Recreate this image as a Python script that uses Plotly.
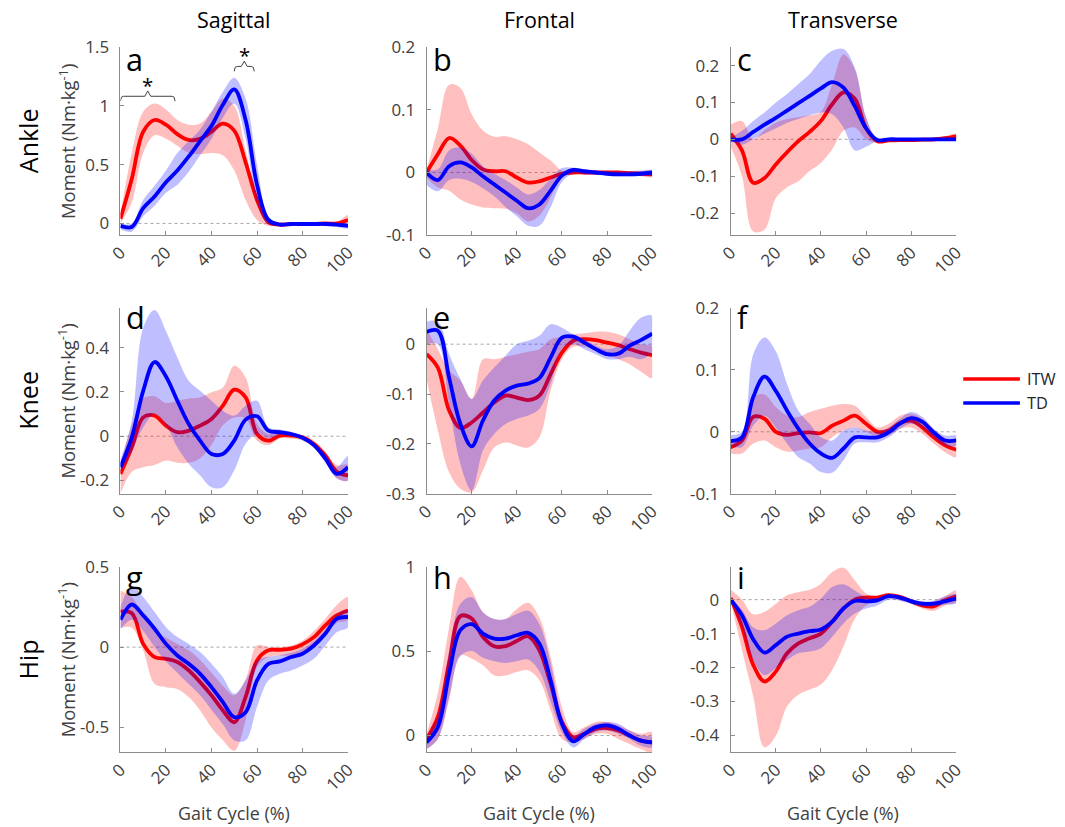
import plotly.graph_objects as go
from plotly.subplots import make_subplots

# ---------------- data ----------------
gait = list(range(0, 101, 5))  # gait cycle %

# a: ankle sagittal
itw_a_mean = [0.04, 0.38, 0.78, 0.88, 0.84, 0.76, 0.71, 0.72, 0.78, 0.85, 0.79, 0.52, 0.20, 0.01, -0.01, -0.005, -0.005, -0.005, 0.0, 0.0, 0.03]
itw_a_hi = [0.08, 0.60, 0.95, 1.02, 0.97, 0.88, 0.84, 0.85, 0.95, 1.06, 1.00, 0.62, 0.22, 0.04, 0.01, 0.005, 0.005, 0.005, 0.01, 0.01, 0.07]
itw_a_lo = [0.0, 0.18, 0.60, 0.75, 0.72, 0.66, 0.60, 0.59, 0.60, 0.58, 0.45, 0.20, 0.03, -0.02, -0.02, -0.02, -0.02, -0.02, -0.02, -0.02, 0.0]
td_a_mean = [-0.02, -0.03, 0.13, 0.23, 0.35, 0.45, 0.57, 0.70, 0.83, 1.01, 1.14, 0.88, 0.33, 0.03, -0.01, -0.005, -0.005, -0.005, -0.005, -0.01, -0.02]
td_a_hi = [0.0, 0.0, 0.20, 0.32, 0.45, 0.60, 0.70, 0.80, 0.95, 1.12, 1.24, 1.06, 0.50, 0.06, 0.0, 0.0, 0.0, 0.0, 0.0, 0.0, 0.0]
td_a_lo = [-0.05, -0.07, 0.06, 0.15, 0.26, 0.33, 0.44, 0.58, 0.72, 0.90, 1.02, 0.72, 0.18, -0.01, -0.02, -0.02, -0.02, -0.02, -0.02, -0.03, -0.04]

# b: ankle frontal
itw_b_mean = [0.0, 0.029, 0.055, 0.043, 0.02, 0.005, 0.002, 0.002, -0.008, -0.016, -0.014, -0.008, -0.002, 0.0, 0.0, 0.0, 0.0, 0.0, -0.001, -0.002, -0.003]
itw_b_hi = [0.005, 0.07, 0.14, 0.135, 0.093, 0.067, 0.057, 0.058, 0.053, 0.045, 0.032, 0.019, 0.003, 0.002, 0.002, 0.002, 0.002, 0.002, 0.002, 0.002, 0.002]
itw_b_lo = [-0.008, -0.024, -0.029, -0.043, -0.051, -0.056, -0.057, -0.058, -0.065, -0.078, -0.069, -0.04, -0.004, -0.003, -0.003, -0.003, -0.004, -0.004, -0.005, -0.006, -0.007]
td_b_mean = [0.0, -0.012, 0.01, 0.016, 0.008, -0.006, -0.019, -0.032, -0.045, -0.057, -0.051, -0.029, -0.005, 0.004, 0.002, 0.0, -0.002, -0.003, -0.003, -0.002, 0.0]
td_b_hi = [0.005, 0.005, 0.035, 0.04, 0.03, 0.01, -0.002, -0.012, -0.024, -0.035, -0.028, -0.01, 0.007, 0.008, 0.005, 0.003, 0.002, 0.002, 0.002, 0.003, 0.004]
td_b_lo = [-0.02, -0.03, -0.012, -0.01, -0.015, -0.025, -0.038, -0.055, -0.07, -0.085, -0.085, -0.055, -0.015, -0.002, -0.003, -0.004, -0.005, -0.006, -0.006, -0.005, -0.005]

# c: ankle transverse
itw_c_mean = [0.015, -0.03, -0.118, -0.105, -0.068, -0.035, -0.005, 0.02, 0.05, 0.095, 0.127, 0.11, 0.03, -0.005, -0.003, -0.002, -0.002, -0.001, 0.0, 0.003, 0.008]
itw_c_hi = [0.04, 0.05, 0.0, 0.025, 0.045, 0.055, 0.06, 0.065, 0.075, 0.15, 0.23, 0.19, 0.06, 0.0, 0.002, 0.002, 0.002, 0.003, 0.005, 0.008, 0.015]
itw_c_lo = [-0.02, -0.10, -0.25, -0.245, -0.16, -0.13, -0.114, -0.086, -0.064, -0.027, 0.023, 0.032, 0.0, -0.01, -0.008, -0.006, -0.005, -0.005, -0.005, -0.003, 0.0]
td_c_mean = [0.0, 0.0, 0.02, 0.04, 0.058, 0.078, 0.098, 0.118, 0.138, 0.155, 0.14, 0.09, 0.03, -0.002, 0.0, 0.0, 0.0, 0.0, 0.0, 0.0, 0.0]
td_c_hi = [0.005, 0.023, 0.05, 0.073, 0.10, 0.123, 0.15, 0.177, 0.214, 0.24, 0.245, 0.195, 0.06, 0.003, 0.003, 0.003, 0.003, 0.003, 0.003, 0.003, 0.003]
td_c_lo = [-0.005, -0.015, 0.0, 0.015, 0.03, 0.045, 0.055, 0.065, 0.073, 0.068, 0.032, -0.03, -0.02, -0.005, -0.003, -0.003, -0.003, -0.003, -0.003, -0.003, -0.003]

# d: knee sagittal
itw_d_mean = [-0.17, -0.05, 0.085, 0.093, 0.048, 0.018, 0.025, 0.048, 0.078, 0.138, 0.21, 0.175, 0.01, -0.02, 0.003, 0.003, -0.005, -0.035, -0.087, -0.16, -0.177]
itw_d_hi = [-0.12, 0.05, 0.17, 0.18, 0.15, 0.16, 0.17, 0.175, 0.198, 0.22, 0.318, 0.265, 0.055, 0.01, 0.02, 0.015, 0.005, -0.02, -0.07, -0.13, -0.13]
itw_d_lo = [-0.26, -0.16, -0.14, -0.13, -0.11, -0.12, -0.12, -0.10, -0.04, 0.05, 0.085, 0.08, -0.02, -0.04, -0.01, -0.01, -0.02, -0.05, -0.10, -0.19, -0.20]
td_d_mean = [-0.14, -0.005, 0.205, 0.335, 0.27, 0.16, 0.055, -0.02, -0.08, -0.08, -0.02, 0.075, 0.09, 0.025, 0.018, 0.01, -0.007, -0.04, -0.10, -0.17, -0.14]
td_d_hi = [-0.11, 0.07, 0.49, 0.57, 0.475, 0.355, 0.25, 0.205, 0.16, 0.115, 0.093, 0.138, 0.16, 0.04, 0.03, 0.02, 0.0, -0.03, -0.08, -0.14, -0.09]
td_d_lo = [-0.16, -0.07, 0.04, 0.10, 0.05, -0.05, -0.124, -0.177, -0.23, -0.23, -0.154, -0.034, 0.01, -0.01, 0.005, 0.0, -0.015, -0.05, -0.12, -0.19, -0.20]

# e: knee frontal
itw_e_mean = [-0.02, -0.047, -0.133, -0.168, -0.157, -0.137, -0.117, -0.103, -0.107, -0.112, -0.103, -0.06, -0.017, 0.007, 0.01, 0.008, 0.003, -0.002, -0.01, -0.017, -0.022]
itw_e_hi = [0.03, -0.01, -0.053, -0.073, -0.11, -0.03, -0.03, -0.025, -0.02, -0.015, -0.01, 0.01, 0.015, 0.02, 0.022, 0.025, 0.025, 0.02, 0.01, 0.0, -0.005]
itw_e_lo = [-0.07, -0.173, -0.257, -0.29, -0.297, -0.253, -0.207, -0.197, -0.203, -0.207, -0.187, -0.093, -0.03, -0.005, -0.005, -0.01, -0.02, -0.03, -0.04, -0.055, -0.068]
td_e_mean = [0.025, 0.027, -0.067, -0.16, -0.205, -0.153, -0.113, -0.093, -0.083, -0.079, -0.068, -0.027, 0.013, 0.015, 0.003, -0.01, -0.02, -0.019, -0.003, 0.008, 0.021]
td_e_hi = [0.045, 0.045, -0.02, -0.07, -0.11, -0.073, -0.047, -0.023, 0.0, 0.007, 0.017, 0.04, 0.033, 0.02, 0.01, -0.003, -0.01, -0.003, 0.027, 0.053, 0.057]
td_e_lo = [0.0, 0.0, -0.12, -0.24, -0.293, -0.213, -0.18, -0.16, -0.15, -0.143, -0.13, -0.08, -0.01, 0.0, -0.01, -0.02, -0.03, -0.03, -0.025, -0.03, -0.015]

# f: knee transverse
itw_f_mean = [-0.025, -0.014, 0.024, 0.021, 0.0, -0.005, -0.002, -0.001, -0.002, 0.01, 0.018, 0.026, 0.013, 0.0, 0.002, 0.014, 0.018, 0.007, -0.009, -0.022, -0.029]
itw_f_hi = [-0.015, -0.005, 0.056, 0.06, 0.04, 0.026, 0.024, 0.032, 0.037, 0.042, 0.045, 0.042, 0.024, 0.007, 0.013, 0.026, 0.029, 0.021, 0.003, -0.011, -0.019]
itw_f_lo = [-0.035, -0.035, -0.019, -0.014, -0.025, -0.032, -0.03, -0.027, -0.025, -0.009, 0.002, 0.007, 0.0, -0.009, -0.006, 0.005, 0.007, -0.003, -0.019, -0.033, -0.041]
td_f_mean = [-0.015, -0.009, 0.056, 0.089, 0.066, 0.034, 0.005, -0.019, -0.035, -0.042, -0.027, -0.009, -0.009, -0.009, -0.001, 0.013, 0.022, 0.016, -0.001, -0.014, -0.014]
td_f_hi = [-0.005, 0.0, 0.125, 0.152, 0.13, 0.077, 0.034, 0.013, -0.009, -0.014, 0.002, 0.007, 0.002, 0.0, 0.007, 0.021, 0.032, 0.024, 0.005, -0.006, -0.006]
td_f_lo = [-0.022, -0.025, 0.01, 0.026, 0.007, -0.019, -0.041, -0.051, -0.065, -0.066, -0.046, -0.019, -0.017, -0.017, -0.009, 0.005, 0.013, 0.007, -0.009, -0.022, -0.022]

# g: hip sagittal
itw_g_mean = [0.22, 0.21, 0.02, -0.062, -0.073, -0.093, -0.145, -0.218, -0.30, -0.394, -0.467, -0.31, -0.083, -0.02, -0.017, -0.01, 0.017, 0.062, 0.135, 0.197, 0.228]
itw_g_hi = [0.35, 0.31, 0.20, 0.10, 0.06, 0.02, -0.02, -0.08, -0.16, -0.24, -0.30, -0.20, 0.01, 0.0, 0.0, 0.01, 0.04, 0.10, 0.176, 0.26, 0.31]
itw_g_lo = [0.12, 0.12, -0.02, -0.228, -0.249, -0.26, -0.311, -0.394, -0.50, -0.58, -0.645, -0.456, -0.124, -0.062, -0.052, -0.052, -0.031, 0.02, 0.083, 0.15, 0.17]
td_g_mean = [0.17, 0.265, 0.197, 0.114, 0.02, -0.052, -0.104, -0.166, -0.249, -0.342, -0.436, -0.405, -0.207, -0.104, -0.089, -0.062, -0.041, 0.01, 0.083, 0.176, 0.187]
td_g_hi = [0.25, 0.38, 0.311, 0.218, 0.124, 0.062, 0.02, -0.031, -0.104, -0.187, -0.29, -0.207, -0.083, -0.06, -0.05, -0.035, -0.01, 0.04, 0.11, 0.20, 0.23]
td_g_lo = [0.11, 0.17, 0.10, 0.0, -0.09, -0.16, -0.23, -0.30, -0.39, -0.48, -0.58, -0.58, -0.373, -0.207, -0.166, -0.145, -0.114, -0.073, 0.01, 0.093, 0.124]

# h: hip frontal
itw_h_mean = [-0.02, 0.11, 0.43, 0.707, 0.693, 0.584, 0.529, 0.529, 0.56, 0.588, 0.505, 0.307, 0.079, -0.01, 0.01, 0.04, 0.044, 0.03, 0.0, -0.03, -0.04]
itw_h_hi = [0.01, 0.25, 0.64, 0.94, 0.86, 0.73, 0.69, 0.69, 0.75, 0.786, 0.70, 0.465, 0.168, 0.02, 0.05, 0.08, 0.08, 0.06, 0.03, 0.01, 0.02]
itw_h_lo = [-0.08, -0.02, 0.21, 0.475, 0.455, 0.416, 0.356, 0.356, 0.376, 0.386, 0.327, 0.149, -0.02, -0.04, -0.02, 0.01, 0.01, -0.02, -0.05, -0.08, -0.10]
td_h_mean = [-0.04, 0.05, 0.366, 0.624, 0.66, 0.604, 0.574, 0.574, 0.594, 0.608, 0.545, 0.327, 0.07, -0.034, 0.01, 0.05, 0.06, 0.04, 0.0, -0.03, -0.04]
td_h_hi = [-0.01, 0.12, 0.50, 0.78, 0.82, 0.73, 0.69, 0.69, 0.72, 0.74, 0.66, 0.43, 0.12, 0.0, 0.04, 0.07, 0.08, 0.07, 0.03, 0.0, -0.01]
td_h_lo = [-0.08, -0.02, 0.23, 0.47, 0.50, 0.46, 0.44, 0.43, 0.44, 0.45, 0.38, 0.20, 0.02, -0.07, -0.02, 0.02, 0.03, 0.01, -0.02, -0.06, -0.07]

# i: hip transverse
itw_i_mean = [0.005, -0.08, -0.192, -0.241, -0.212, -0.158, -0.129, -0.114, -0.10, -0.065, -0.026, 0.0, 0.006, 0.006, 0.013, 0.008, -0.005, -0.017, -0.02, -0.002, 0.01]
itw_i_hi = [0.03, 0.0, -0.043, -0.036, -0.012, 0.013, 0.022, 0.029, 0.047, 0.081, 0.094, 0.057, 0.018, 0.008, 0.018, 0.013, 0.0, -0.01, -0.005, 0.01, 0.027]
itw_i_lo = [-0.005, -0.148, -0.285, -0.435, -0.402, -0.314, -0.28, -0.265, -0.25, -0.207, -0.138, -0.056, -0.017, -0.002, 0.003, -0.002, -0.012, -0.026, -0.033, -0.017, -0.007]
td_i_mean = [0.0, -0.046, -0.117, -0.156, -0.134, -0.109, -0.10, -0.093, -0.088, -0.065, -0.026, -0.004, -0.005, -0.002, 0.01, 0.006, -0.005, -0.012, -0.012, -0.005, 0.003]
td_i_hi = [0.005, -0.03, -0.082, -0.09, -0.07, -0.046, -0.031, -0.021, 0.003, 0.037, 0.045, 0.027, 0.008, 0.005, 0.015, 0.012, 0.002, -0.005, -0.003, 0.01, 0.015]
td_i_lo = [-0.005, -0.08, -0.178, -0.222, -0.202, -0.178, -0.158, -0.153, -0.143, -0.109, -0.07, -0.041, -0.026, -0.017, 0.0, -0.003, -0.012, -0.02, -0.02, -0.015, -0.01]

panel_letters = ["a", "b", "c", "d", "e", "f", "g", "h", "i"]
col_titles = ["Sagittal", "Frontal", "Transverse"]
row_titles = ["Ankle", "Knee", "Hip"]
x_ticks = [0, 20, 40, 60, 80, 100]
y_ticks = {
    "a": [0, 0.5, 1, 1.5], "b": [-0.1, 0, 0.1, 0.2], "c": [-0.2, -0.1, 0, 0.1, 0.2],
    "d": [-0.2, 0, 0.2, 0.4], "e": [-0.3, -0.2, -0.1, 0], "f": [-0.1, 0, 0.1, 0.2],
    "g": [-0.5, 0, 0.5], "h": [0, 0.5, 1], "i": [-0.4, -0.3, -0.2, -0.1, 0],
}
y_ranges = {
    "a": [-0.1, 1.5], "b": [-0.1, 0.2], "c": [-0.26, 0.25],
    "d": [-0.26, 0.58], "e": [-0.3, 0.073], "f": [-0.1, 0.2],
    "g": [-0.655, 0.5], "h": [-0.1, 1.0], "i": [-0.45, 0.097],
}
# significance brackets in panel a: (start %, end %, bracket level)
sig_spans = [(0, 24, 1.082), (50, 58.8, 1.336)]

series = {
    "a": (itw_a_mean, itw_a_hi, itw_a_lo, td_a_mean, td_a_hi, td_a_lo),
    "b": (itw_b_mean, itw_b_hi, itw_b_lo, td_b_mean, td_b_hi, td_b_lo),
    "c": (itw_c_mean, itw_c_hi, itw_c_lo, td_c_mean, td_c_hi, td_c_lo),
    "d": (itw_d_mean, itw_d_hi, itw_d_lo, td_d_mean, td_d_hi, td_d_lo),
    "e": (itw_e_mean, itw_e_hi, itw_e_lo, td_e_mean, td_e_hi, td_e_lo),
    "f": (itw_f_mean, itw_f_hi, itw_f_lo, td_f_mean, td_f_hi, td_f_lo),
    "g": (itw_g_mean, itw_g_hi, itw_g_lo, td_g_mean, td_g_hi, td_g_lo),
    "h": (itw_h_mean, itw_h_hi, itw_h_lo, td_h_mean, td_h_hi, td_h_lo),
    "i": (itw_i_mean, itw_i_hi, itw_i_lo, td_i_mean, td_i_hi, td_i_lo),
}

# ---------------- styling / layout ----------------
W, H = 1065, 827
# the rendered page shows the figure slightly inset and scaled; compensate so
# that positions measured on the reference land where they should
AX_OFF, AX_S = 10.9, 0.9835
AY_OFF, AY_S = 10.5, 0.9736
FS = 1.0 / ((AX_S + AY_S) / 2)   # font / size compensation

FONT = "Open Sans, Noto Sans, DejaVu Sans, sans-serif"
RED, BLUE = "#ff0000", "#0000ff"
RED_FILL, BLUE_FILL = "rgba(255,0,0,0.25)", "rgba(0,0,255,0.25)"
AX_COLOR = "#8c8c8c"
TXT_COLOR = "#404040"


def px(xp):
    return ((xp - AX_OFF) / AX_S) / W


def py(yp):
    return 1 - ((yp - AY_OFF) / AY_S) / H


def fs(s):
    return round(s * FS, 1)


col_px = [(118, 347), (426, 653), (732, 959)]
row_px = [(45.7, 234), (306.7, 493), (566, 752)]

fig = make_subplots(rows=3, cols=3)

for k, letter in enumerate(panel_letters):
    r, c = divmod(k, 3)
    row, col = r + 1, c + 1
    im, ih, il, tm, th, tl = series[letter]
    fig.add_trace(go.Scatter(x=gait + gait[::-1], y=ih + il[::-1], fill="toself",
                             fillcolor=RED_FILL, line=dict(width=0, shape="spline"),
                             mode="lines", hoverinfo="skip", showlegend=False), row=row, col=col)
    fig.add_trace(go.Scatter(x=gait, y=im, mode="lines", name="ITW",
                             line=dict(color=RED, width=3.8, shape="spline"),
                             showlegend=False), row=row, col=col)
    fig.add_trace(go.Scatter(x=gait + gait[::-1], y=th + tl[::-1], fill="toself",
                             fillcolor=BLUE_FILL, line=dict(width=0, shape="spline"),
                             mode="lines", hoverinfo="skip", showlegend=False), row=row, col=col)
    fig.add_trace(go.Scatter(x=gait, y=tm, mode="lines", name="TD",
                             line=dict(color=BLUE, width=3.8, shape="spline"),
                             showlegend=False), row=row, col=col)

    n = k + 1
    xa = "xaxis" if n == 1 else f"xaxis{n}"
    ya = "yaxis" if n == 1 else f"yaxis{n}"
    x0, x1 = col_px[c]
    y0, y1 = row_px[r]
    fig.layout[xa].update(domain=[px(x0), px(x1)], range=[0, 100],
                          tickvals=x_ticks, ticktext=[str(t) for t in x_ticks],
                          tickangle=-45, showline=True, linecolor=AX_COLOR, linewidth=1,
                          ticks="inside", ticklen=4, tickcolor=AX_COLOR,
                          showgrid=False, zeroline=False,
                          tickfont=dict(size=fs(16.5), color=TXT_COLOR, family=FONT))
    yt = y_ticks[letter]
    fig.layout[ya].update(domain=[py(y1), py(y0)], range=y_ranges[letter],
                          tickvals=yt, ticktext=["%g" % t for t in yt],
                          showline=True, linecolor=AX_COLOR, linewidth=1,
                          ticks="inside", ticklen=4, tickcolor=AX_COLOR,
                          showgrid=False, zeroline=False, ticklabelstandoff=7,
                          tickfont=dict(size=fs(16.5), color=TXT_COLOR, family=FONT))
    xref = "x" if n == 1 else f"x{n}"
    yref = "y" if n == 1 else f"y{n}"
    fig.add_shape(type="line", xref=xref, yref=yref, x0=0, x1=100, y0=0, y1=0,
                  line=dict(color="#a6a6a6", width=1, dash="dot"), layer="below")
    letter_y = [58, 316, 576][r]
    fig.add_annotation(text=letter, xref="paper", yref="paper",
                       x=px(x0 + 4), y=py(letter_y), xanchor="left", yanchor="middle",
                       showarrow=False, font=dict(size=fs(30), color="black", family=FONT))

# significance braces in panel a
for (s0, s1, lvl) in sig_spans:
    mid = (s0 + s1) / 2
    dy_end, dy_peak = 0.042, 0.045
    bx = [s0, s0 + 0.4, s0 + 1.3, mid - 1.3, mid, mid + 1.3, s1 - 1.3, s1 - 0.4, s1]
    by = [lvl - dy_end, lvl - 0.008, lvl, lvl, lvl + dy_peak, lvl, lvl, lvl - 0.008, lvl - dy_end]
    fig.add_trace(go.Scatter(x=bx, y=by, mode="lines", line=dict(color="#404040", width=1),
                             hoverinfo="skip", showlegend=False, cliponaxis=False), row=1, col=1)
    fig.add_annotation(text="*", x=mid, y=lvl + 0.10, xref="x", yref="y", showarrow=False,
                       font=dict(size=fs(20), color="black", family=FONT))

for c, t in enumerate(col_titles):
    x0, x1 = col_px[c]
    fig.add_annotation(text=t, xref="paper", yref="paper", x=px((x0 + x1) / 2), y=py(18),
                       xanchor="center", yanchor="middle", showarrow=False,
                       font=dict(size=fs(21), color="black", family=FONT))
    fig.add_annotation(text="Gait Cycle (%)", xref="paper", yref="paper",
                       x=px((x0 + x1) / 2), y=py(813), xanchor="center", yanchor="middle",
                       showarrow=False, font=dict(size=fs(17.5), color=TXT_COLOR, family=FONT))
for r, t in enumerate(row_titles):
    y0, y1 = row_px[r]
    yc = py((y0 + y1) / 2)
    fig.add_annotation(text=t, xref="paper", yref="paper", x=px(25), y=yc,
                       xanchor="center", yanchor="middle", textangle=-90, showarrow=False,
                       font=dict(size=fs(24.5), color="black", family=FONT))
    fig.add_annotation(text="Moment (Nm·kg<sup>-1</sup>)", xref="paper", yref="paper",
                       x=px(64), y=yc, xanchor="center", yanchor="middle", textangle=-90,
                       showarrow=False, font=dict(size=fs(18), color=TXT_COLOR, family=FONT))

for name, color, ypx in [("ITW", RED, 378), ("TD", BLUE, 402)]:
    fig.add_shape(type="line", xref="paper", yref="paper", x0=px(966), x1=px(1023),
                  y0=py(ypx), y1=py(ypx), line=dict(color=color, width=3.5))
    fig.add_annotation(text=name, xref="paper", yref="paper", x=px(1028), y=py(ypx),
                       xanchor="left", yanchor="middle", showarrow=False,
                       font=dict(size=fs(16), color="#262626", family=FONT))

fig.update_layout(width=W, height=H, margin=dict(l=0, r=0, t=0, b=0),
                  paper_bgcolor="white", plot_bgcolor="white", showlegend=False,
                  font=dict(family=FONT))

fig.write_html("out.html")
